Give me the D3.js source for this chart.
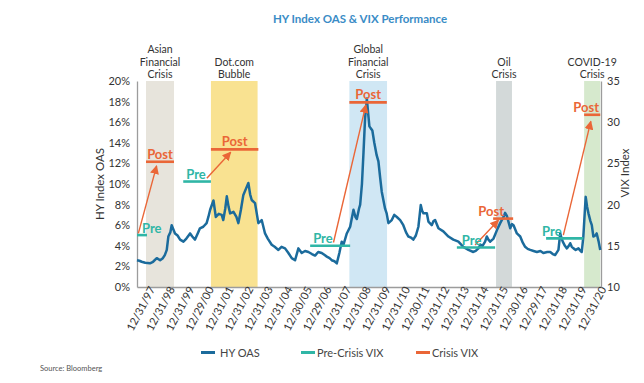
<!DOCTYPE html>
<html><head><meta charset="utf-8">
<script src="https://cdn.jsdelivr.net/npm/d3@7"></script>
<style>body{margin:0;background:#fff} svg{display:block} text{font-family:Lato,"Open Sans",sans-serif}</style>
</head><body><div id="chart"></div>
<script>
const tickLabels = ["12/31/97","12/31/98","12/31/99","12/29/00","12/31/01","12/31/02","12/31/03","12/31/04","12/30/05","12/29/06","12/31/07","12/31/08","12/31/09","12/31/10","12/30/11","12/31/12","12/31/13","12/31/14","12/31/15","12/30/16","12/29/17","12/31/18","12/31/19","12/31/20"];
const leftTicks = [0,2,4,6,8,10,12,14,16,18,20];
const rightTicks = [10,15,20,25,30,35];
const oasYears = [1997.38,1997.50,1997.62,1997.80,1998.04,1998.20,1998.39,1998.56,1998.70,1998.80,1998.90,1998.98,1999.08,1999.15,1999.32,1999.45,1999.58,1999.75,1999.90,2000.09,2000.20,2000.34,2000.50,2000.59,2000.76,2000.93,2001.02,2001.11,2001.28,2001.40,2001.55,2001.70,2001.78,2001.88,2001.96,2002.05,2002.13,2002.30,2002.45,2002.55,2002.68,2002.80,2002.95,2003.06,2003.15,2003.23,2003.40,2003.50,2003.57,2003.74,2003.91,2004.05,2004.25,2004.40,2004.59,2004.75,2004.93,2005.10,2005.27,2005.44,2005.61,2005.78,2005.95,2006.12,2006.30,2006.46,2006.62,2006.80,2006.95,2007.06,2007.20,2007.31,2007.45,2007.57,2007.70,2007.82,2007.91,2008.08,2008.25,2008.42,2008.52,2008.59,2008.70,2008.76,2008.85,2008.93,2009.01,2009.10,2009.16,2009.23,2009.30,2009.38,2009.48,2009.60,2009.69,2009.78,2009.86,2010.03,2010.11,2010.20,2010.37,2010.50,2010.63,2010.80,2010.96,2011.10,2011.22,2011.35,2011.47,2011.60,2011.73,2011.85,2011.92,2011.99,2012.16,2012.24,2012.41,2012.50,2012.58,2012.75,2013.00,2013.26,2013.51,2013.77,2014.02,2014.28,2014.53,2014.65,2014.79,2014.88,2015.00,2015.13,2015.22,2015.30,2015.39,2015.56,2015.73,2015.90,2016.07,2016.15,2016.24,2016.32,2016.41,2016.50,2016.58,2016.75,2016.92,2017.05,2017.17,2017.30,2017.43,2017.60,2017.77,2017.95,2018.10,2018.30,2018.45,2018.58,2018.70,2018.87,2018.96,2019.02,2019.09,2019.20,2019.30,2019.40,2019.47,2019.55,2019.64,2019.75,2019.89,2020.00,2020.06,2020.14,2020.22,2020.26,2020.33,2020.40,2020.50,2020.57,2020.65,2020.75,2020.82,2020.92,2021.00];
const oasValues = [2.6,2.55,2.45,2.35,2.3,2.45,2.8,2.6,2.8,3.1,3.6,4.9,5.3,6.0,5.2,5.0,4.6,4.4,4.7,5.2,4.9,4.6,5.3,5.7,5.85,6.2,6.8,7.5,8.4,6.8,7.1,7.0,6.5,7.6,8.8,7.8,7.15,7.3,6.8,6.2,7.5,8.9,9.6,10.1,9.0,8.45,8.15,7.0,6.2,6.5,5.2,4.7,4.1,3.9,3.6,3.9,3.75,3.3,2.8,2.6,3.75,3.3,3.5,3.4,3.2,3.05,3.4,3.3,3.1,2.95,2.8,2.6,2.5,2.3,3.3,4.4,4.1,5.2,5.85,7.5,6.8,6.6,7.6,8.0,10.0,13.1,16.4,18.3,17.0,15.6,15.4,15.2,14.0,12.8,12.2,10.6,9.25,7.6,7.15,6.2,6.5,7.0,6.8,6.5,6.0,5.3,4.9,4.8,4.6,5.0,5.85,7.95,7.4,7.15,7.15,6.35,6.0,6.4,6.5,5.7,5.4,4.9,4.6,4.4,3.9,3.6,3.4,3.5,3.75,4.1,4.0,4.4,4.9,4.6,4.4,4.7,5.5,6.2,6.8,7.2,6.9,6.35,5.7,6.1,6.0,5.2,4.9,4.3,3.9,3.7,3.6,3.5,3.4,3.5,3.3,3.4,3.4,3.2,3.1,3.6,5.2,4.8,4.4,4.0,3.75,4.0,4.25,3.9,3.75,3.6,3.75,3.5,3.4,4.9,7.5,8.75,7.8,7.15,6.4,6.0,4.9,5.0,5.2,4.4,3.6];
const crisisNames = [["Asian","Financial","Crisis"],["Dot.com","Bubble"],["Global","Financial","Crisis"],["Oil","Crisis"],["COVID-19","Crisis"]];
const crisisStart = [1997.84,2001.15,2008.21,2015.69,2020.18];
const crisisEnd = [1999.27,2003.53,2010.13,2016.50,2021.0];
const crisisColors = ["#e7e4dc","#f9e291","#d0e7f4","#d3d9d9","#d6e9cd"];
const preStart = [1997.38,1999.74,2006.21,2013.69,2018.24];
const preEnd = [1997.89,2001.15,2008.25,2015.64,2020.14];
const preVix = [16.3,22.8,15.0,14.8,15.9];
const postStart = [1997.84,2001.15,2008.21,2015.54,2020.18];
const postEnd = [1999.27,2003.57,2010.12,2016.56,2021.0];
const postVix = [25.2,26.7,32.4,18.3,30.9];
const arrowFromYear = [1997.45,2000.94,2007.40,2014.62,2019.12];
const arrowFromVix = [16.5,23.2,15.4,15.1,16.3];
const arrowToYear = [1998.38,2002.16,2009.05,2015.81,2020.52];
const arrowToVix = [24.7,26.35,32.1,18.1,30.1];
const legendLabels = ["HY OAS","Pre-Crisis VIX","Crisis VIX"];

const C_OAS = "#1b6b9c", C_PRE = "#30b6a6", C_POST = "#ea6637";
function yd(y){const yr=Math.floor(y);const s=new Date(yr,0,1),e=new Date(yr+1,0,1);return new Date(+s+(y-yr)*(e-s));}

const W=644,H=383;
const svg=d3.select("#chart").append("svg").attr("width",W).attr("height",H);
const x=d3.scaleTime().domain([new Date(1997,4,20),new Date(2021,0,15)]).range([137,601]);
const yL=d3.scaleLinear().domain([0,20]).range([287,81]);
const yR=d3.scaleLinear().domain([10,35]).range([287,81]);

svg.append("text").attr("x",360).attr("y",23).attr("text-anchor","middle").attr("fill","#3a8cc6")
  .attr("font-size",11.5).attr("font-weight",700).text("HY Index OAS & VIX Performance");

crisisNames.forEach((nm,i)=>{
  const x0=x(yd(crisisStart[i])),x1=x(yd(crisisEnd[i]));
  svg.append("rect").attr("x",x0).attr("y",yL(20)).attr("width",x1-x0).attr("height",yL(0)-yL(20)).attr("fill",crisisColors[i]);
  const cx=(x0+x1)/2, n=nm.length;
  nm.forEach((t,j)=>{
    svg.append("text").attr("x",cx).attr("y",78-(n-1-j)*12.5).attr("text-anchor","middle")
      .attr("font-size",10.5).attr("fill","#333").text(t);
  });
});

const fmtTick=d3.timeParse("%m/%d/%y");
const tickDates=tickLabels.map(fmtTick);
const gx=svg.append("g").attr("transform","translate(0,287)").call(d3.axisBottom(x).tickValues(tickDates).tickSize(0).tickSizeOuter(0).tickFormat((d,i)=>tickLabels[i]));
gx.selectAll("text").attr("text-anchor","end").attr("transform","translate(1,-3) rotate(-62)").attr("dx","-0.2em").attr("dy","0.35em").attr("font-size",11).attr("fill","#333").attr("font-family","Lato");
const gl=svg.append("g").attr("transform","translate(137,0)").call(d3.axisLeft(yL).tickValues(leftTicks).tickSize(0).tickPadding(7).tickFormat(d=>d+"%"));
gl.selectAll("text").attr("font-size",11).attr("fill","#333").attr("font-family","Lato");
const gr=svg.append("g").attr("transform","translate(601,0)").call(d3.axisRight(yR).tickValues(rightTicks).tickSize(0).tickPadding(6));
gr.selectAll("text").attr("font-size",11).attr("fill","#333").attr("font-family","Lato");
[gx,gl,gr].forEach(g=>g.select(".domain").attr("stroke","#9c9c9c").attr("stroke-width",1.3));

svg.append("text").attr("transform","translate(104,184) rotate(-90)").attr("text-anchor","middle").attr("font-size",11.5).attr("fill","#333").text("HY Index OAS");
svg.append("text").attr("transform","translate(629,173) rotate(-90)").attr("text-anchor","middle").attr("font-size",11.5).attr("fill","#333").text("VIX Index");

const oasData=oasYears.map((t,i)=>({d:yd(t),v:oasValues[i]}));
svg.append("path").datum(oasData).attr("fill","none").attr("stroke",C_OAS).attr("stroke-width",2.5).attr("stroke-linejoin","round")
  .attr("d",d3.line().x(d=>x(d.d)).y(d=>yL(d.v)));

svg.append("defs").append("marker").attr("id","ah").attr("viewBox","0 0 10 10").attr("refX",9).attr("refY",5)
  .attr("markerWidth",9).attr("markerHeight",9).attr("markerUnits","userSpaceOnUse").attr("orient","auto")
  .append("path").attr("d","M0,0L10,5L0,10z").attr("fill",C_POST);

const preDx=[5,3,3,5,-4], postDx=[0,0,0,-12,-6];
crisisNames.forEach((nm,i)=>{
  svg.append("line").attr("x1",x(yd(arrowFromYear[i]))).attr("y1",yR(arrowFromVix[i]))
    .attr("x2",x(yd(arrowToYear[i]))).attr("y2",yR(arrowToVix[i])).attr("stroke",C_POST).attr("stroke-width",1.4).attr("marker-end","url(#ah)");
  svg.append("line").attr("x1",x(yd(preStart[i]))).attr("x2",x(yd(preEnd[i]))).attr("y1",yR(preVix[i])).attr("y2",yR(preVix[i])).attr("stroke",C_PRE).attr("stroke-width",2.6);
  svg.append("line").attr("x1",x(yd(postStart[i]))).attr("x2",x(yd(postEnd[i]))).attr("y1",yR(postVix[i])).attr("y2",yR(postVix[i])).attr("stroke",C_POST).attr("stroke-width",2.6);
  svg.append("text").attr("x",x(yd(preStart[i]))+preDx[i]).attr("y",yR(preVix[i])-2.5).attr("fill",C_PRE).attr("font-size",13).attr("font-weight",700).text("Pre");
  const px=(x(yd(postStart[i]))+x(yd(postEnd[i])))/2+postDx[i];
  svg.append("text").attr("x",px).attr("y",yR(postVix[i])-3).attr("text-anchor","middle").attr("fill",C_POST).attr("font-size",13).attr("font-weight",700).text("Post");
});

const legColors=[C_OAS,C_PRE,C_POST], legX=[201,301,416];
legendLabels.forEach((l,i)=>{
  svg.append("line").attr("x1",legX[i]).attr("x2",legX[i]+14).attr("y1",352.5).attr("y2",352.5).attr("stroke",legColors[i]).attr("stroke-width",3);
  svg.append("text").attr("x",legX[i]+(i===0?19:16)).attr("y",356.5).attr("font-size",11).attr("fill","#444").text(l);
});
svg.append("text").attr("x",40).attr("y",371).attr("font-size",7.5).attr("fill","#555").text("Source: Bloomberg");
</script></body></html>
